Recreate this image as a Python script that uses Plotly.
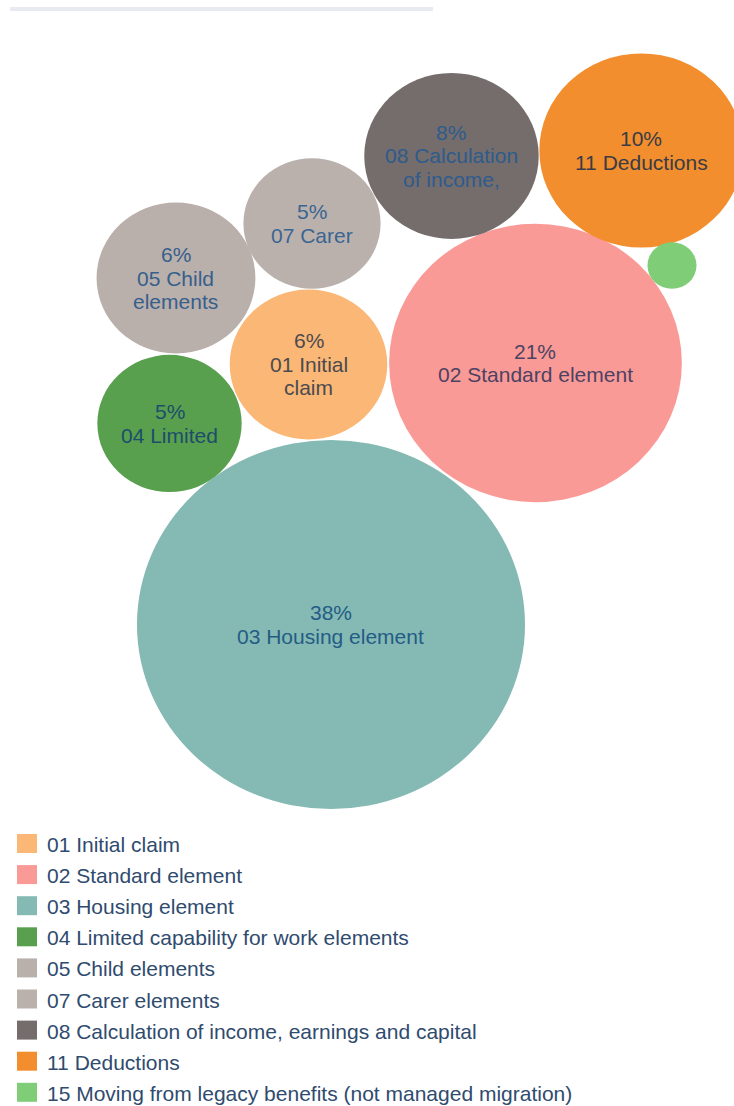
import math
import plotly.graph_objects as go

# ---------------- data ----------------
categories = [
    "01 Initial claim",
    "02 Standard element",
    "03 Housing element",
    "04 Limited capability for work elements",
    "05 Child elements",
    "07 Carer elements",
    "08 Calculation of income, earnings and capital",
    "11 Deductions",
    "15 Moving from legacy benefits (not managed migration)",
]
share_pct = [6.2, 21.4, 37.6, 5.2, 6.3, 4.7, 7.6, 10.4, 0.6]
bubble_names = [
    ["01 Initial", "claim"],
    ["02 Standard element"],
    ["03 Housing element"],
    ["04 Limited"],
    ["05 Child", "elements"],
    ["07 Carer"],
    ["08 Calculation", "of income,"],
    ["11 Deductions"],
    [],
]

# ------------- packing layout (bubble centres, in radius units = sqrt(share)) -------------
pack_x = [-0.711, 6.463, 0.0, -5.104, -4.899, -0.600, 3.808, 9.810, 10.777]
pack_y = [8.641, 8.691, 0.0, 6.680, 11.515, 13.327, 15.570, 15.753, 11.931]

# ---------------- styles ----------------
fill_colors = ["#fbb776", "#fa9a97", "#85bab4", "#58a04e", "#b9afab",
               "#bab1ad", "#756d6c", "#f28e2d", "#7fcd76"]
label_colors = ["#4b4b4f", "#4d4262", "#245c85", "#1d4d6b", "#375f8b",
                "#3a6591", "#2d5b8c", "#3a3c46", "#333333"]
legend_text_color = "#2f4b6e"
FONT = "Liberation Sans, Arial, sans-serif"
LABEL_SIZE = 21
LINE_PITCH = 23.5
LEGEND_SIZE = 21

W, H = 734, 1106
LEG_TOP_PX, LEG_PITCH_PX = 843.5, 31.1      # legend row centres (px from top)
LEG_SQ_X0, LEG_SQ_X1, LEG_SQ_H = 17, 37, 19  # legend square (px)
LEG_TEXT_X = 45

fig = go.Figure()

# bubbles: radius proportional to sqrt(share)
shapes = []
for cx, cy, v, col in zip(pack_x, pack_y, share_pct, fill_colors):
    r = math.sqrt(v)
    shapes.append(dict(type="circle", xref="x", yref="y",
                       x0=cx - r, x1=cx + r, y0=cy - r, y1=cy + r,
                       fillcolor=col, line=dict(width=0), layer="below"))

# thin grey bar at top of page
shapes.append(dict(type="rect", xref="paper", yref="paper",
                   x0=10 / W, x1=433 / W, y0=1 - 11 / H, y1=1 - 7 / H,
                   fillcolor="#e7ebef", line=dict(width=0), layer="below"))

# labels (one annotation per text line, centred on the bubble)
annotations = []
for cx, cy, v, names, col in zip(pack_x, pack_y, share_pct, bubble_names, label_colors):
    if not names:
        continue
    lines = [f"{round(v)}%"] + names
    n = len(lines)
    for k, line in enumerate(lines):
        annotations.append(dict(
            x=cx, y=cy, xref="x", yref="y", text=line, showarrow=False,
            xanchor="center", yanchor="middle",
            yshift=((n - 1) / 2 - k) * LINE_PITCH,
            font=dict(family=FONT, size=LABEL_SIZE, color=col),
        ))

# legend (square swatch + category name for every series)
for i, (name, col) in enumerate(zip(categories, fill_colors)):
    yc = LEG_TOP_PX + i * LEG_PITCH_PX
    shapes.append(dict(type="rect", xref="paper", yref="paper",
                       x0=LEG_SQ_X0 / W, x1=LEG_SQ_X1 / W,
                       y0=1 - (yc + LEG_SQ_H / 2) / H, y1=1 - (yc - LEG_SQ_H / 2) / H,
                       fillcolor=col, line=dict(width=0), layer="above"))
    annotations.append(dict(
        x=LEG_TEXT_X / W, y=1 - (yc + 1) / H, xref="paper", yref="paper",
        text=name, showarrow=False, xanchor="left", yanchor="middle",
        font=dict(family=FONT, size=LEGEND_SIZE, color=legend_text_color),
    ))

fig.update_layout(
    width=W, height=H, autosize=False,
    margin=dict(l=0, r=0, t=0, b=0, autoexpand=False),
    paper_bgcolor="white", plot_bgcolor="white",
    shapes=shapes,
    annotations=annotations,
    xaxis=dict(range=[-10.461, 12.737], visible=False, fixedrange=True),
    yaxis=dict(range=[-16.002, 20.754], visible=False, fixedrange=True),
    showlegend=False,
)

fig.write_html(
    "out.html",
    config={"displayModeBar": False},
    post_script="document.body.style.margin='0';document.body.style.overflow='hidden';",
)
